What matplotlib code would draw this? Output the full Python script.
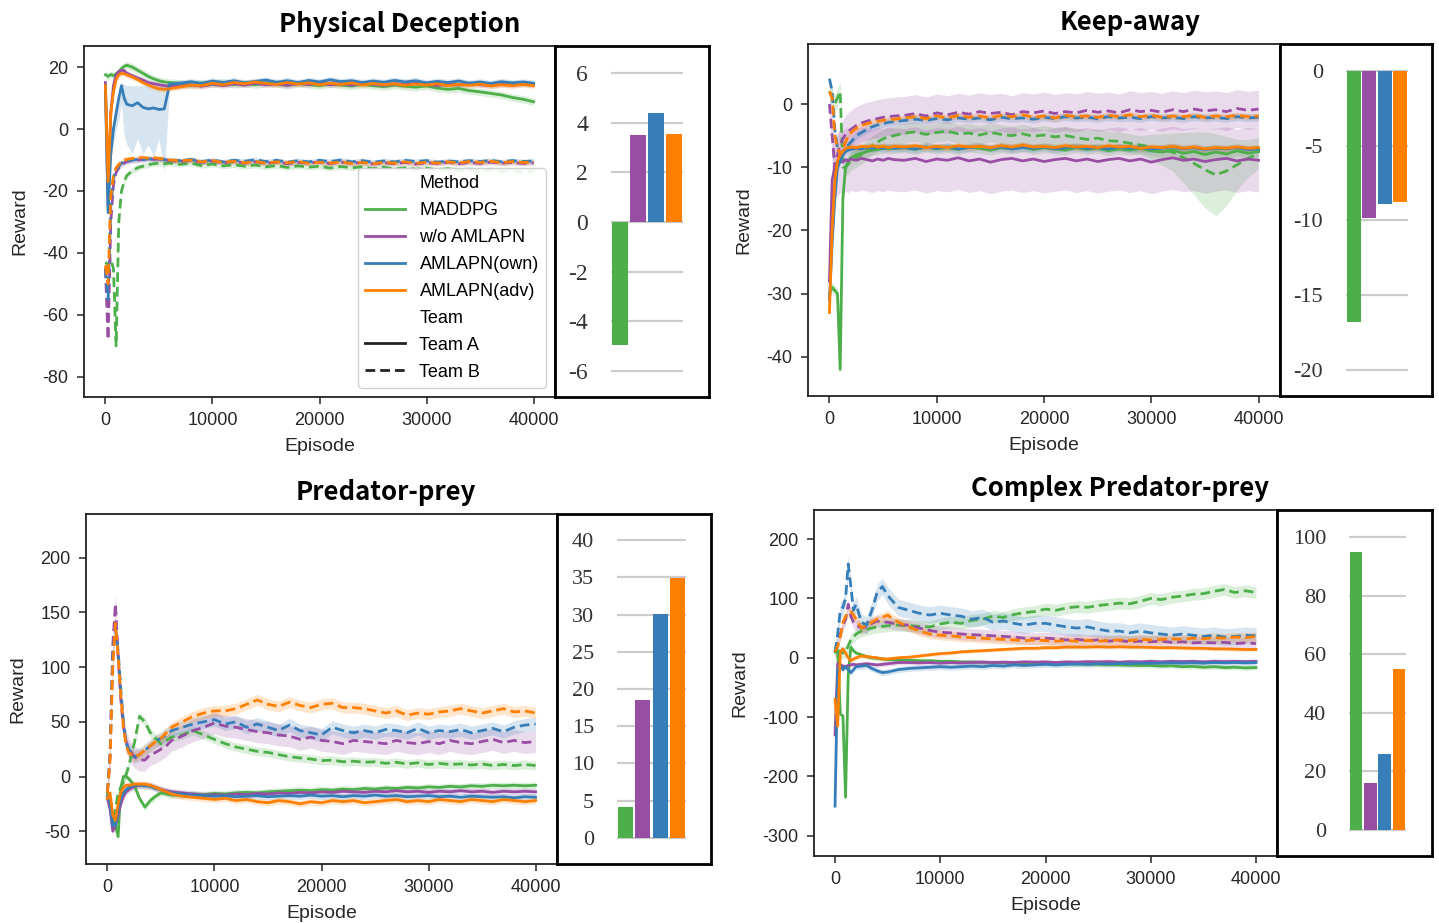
import numpy as np
import matplotlib.pyplot as plt
from matplotlib.lines import Line2D

plt.rcParams['font.family'] = ['Liberation Sans', 'DejaVu Sans']
plt.rcParams['axes.unicode_minus'] = False

W, H = 1439, 923

# x positions of the logged episodes (denser at the start)
EPISODES = [0, 250, 500, 750, 1000, 1250, 1500, 1750, 2000, 2500, 3000,
            3500, 4000, 4500, 5000, 5500, 6000] + list(range(7000, 40001, 1000))

METHODS = ['MADDPG', 'w/o AMLAPN', 'AMLAPN(own)', 'AMLAPN(adv)']
COLORS = ['#4daf4a', '#984ea3', '#377eb8', '#ff7f00']

# ---------------- Physical Deception ----------------
pd_green_a = [17.5, 17.0, 17.6, 17.2, 17.8, 18.5, 19.5, 20.2, 20.6, 20.0, 19.0, 18.0, 17.0, 16.2, 15.6, 15.2, 15.0,
              14.8, 14.2, 14.9, 14.5, 15.1, 14.4, 14.8, 14.3, 14.9, 14.6, 14.1, 14.7, 14.4, 14.0, 14.6, 14.2, 13.9,
              14.4, 14.0, 13.7, 14.2, 13.8, 13.5, 13.9, 13.2, 12.8, 13.1, 12.4, 12.0, 11.5, 11.0, 10.2, 9.6, 8.8]
pd_purple_a = [15.0, -25.0, 5.0, 14.0, 17.5, 18.5, 19.0, 18.8, 18.0, 17.2, 16.5, 15.8, 15.0, 14.6, 14.3, 14.0, 13.8,
               13.9, 14.3, 13.8, 14.5, 14.0, 14.6, 14.2, 14.8, 14.3, 14.6, 14.1, 14.7, 14.4, 14.9, 14.3, 14.6, 14.2,
               14.8, 14.5, 14.1, 14.6, 14.3, 14.8, 14.4, 14.0, 14.5, 14.2, 14.7, 14.3, 14.0, 14.5, 14.2, 14.6, 14.3]
pd_blue_a = [14.0, -27.0, -8.0, 0.0, 5.0, 10.0, 14.0, 10.0, 8.0, 7.5, 8.5, 7.0, 6.5, 6.8, 6.3, 6.5, 14.5,
             14.8, 15.3, 14.7, 15.5, 15.0, 15.6, 14.9, 15.4, 15.8, 15.1, 15.6, 15.0, 15.7, 15.2, 15.9, 15.3, 15.6,
             15.0, 15.5, 15.1, 15.7, 15.2, 15.6, 14.9, 15.4, 15.0, 15.5, 14.8, 15.2, 14.7, 15.3, 14.9, 15.2, 14.8]
pd_orange_a = [14.0, -17.0, 5.0, 12.0, 16.0, 17.5, 18.0, 17.8, 17.5, 16.8, 16.0, 15.0, 14.2, 13.5, 13.0, 12.8, 13.0,
               13.6, 14.2, 14.0, 14.8, 14.3, 15.0, 14.6, 15.2, 14.7, 14.4, 15.0, 14.5, 14.9, 14.3, 14.8, 14.4, 14.9,
               14.2, 14.7, 14.3, 14.6, 14.1, 14.5, 14.2, 14.6, 14.0, 14.4, 14.1, 14.5, 13.9, 14.3, 14.0, 14.4, 14.0]
pd_green_b = [-43.0, -44.0, -42.0, -45.0, -70.0, -30.0, -20.0, -17.0, -15.0, -13.5, -12.5, -12.0, -11.5, -11.2, -11.0, -11.2, -11.0,
              -11.4, -11.0, -11.8, -11.3, -11.9, -11.5, -12.0, -11.6, -12.2, -11.8, -12.4, -11.9, -12.3, -12.0, -12.6, -12.1,
              -12.5, -12.2, -12.8, -12.3, -12.9, -12.5, -13.0, -12.6, -13.2, -12.8, -13.4, -13.0, -13.6, -13.1, -13.7, -13.3,
              -13.9, -13.5]
pd_purple_b = [-45.0, -68.0, -30.0, -18.0, -14.0, -12.5, -11.5, -11.0, -10.5, -10.2, -10.0, -9.8, -9.6, -9.8, -9.7, -10.0, -10.2,
               -10.5, -10.1, -10.8, -10.3, -10.9, -10.5, -11.0, -10.6, -11.1, -10.7, -11.2, -10.8, -11.0, -10.6, -11.2, -10.7,
               -11.1, -10.8, -11.3, -10.9, -11.2, -10.8, -11.3, -10.9, -11.1, -10.7, -11.2, -10.8, -11.1, -10.7, -11.0, -10.8,
               -11.1, -10.9]
pd_blue_b = [-45.0, -55.0, -25.0, -16.0, -13.0, -12.0, -11.0, -10.6, -10.3, -10.0, -9.8, -9.9, -9.6, -9.8, -9.5, -9.9, -10.0,
             -10.2, -9.8, -10.5, -10.0, -10.6, -10.1, -10.4, -9.9, -10.5, -10.1, -10.7, -10.2, -10.6, -10.1, -10.5, -10.0,
             -10.6, -10.2, -10.7, -10.3, -10.6, -10.1, -10.5, -10.2, -10.7, -10.3, -10.6, -10.2, -10.5, -10.1, -10.6, -10.2,
             -10.5, -10.3]
pd_orange_b = [-44.0, -50.0, -22.0, -15.0, -12.5, -11.5, -10.5, -10.0, -9.8, -9.5, -9.3, -9.2, -9.4, -9.2, -9.5, -9.7, -10.0,
               -10.3, -10.0, -10.6, -10.2, -10.8, -10.4, -10.9, -10.5, -11.0, -10.6, -10.9, -10.5, -11.1, -10.7, -11.0, -10.6,
               -11.1, -10.8, -11.2, -10.7, -11.0, -10.6, -11.1, -10.7, -11.0, -10.6, -10.9, -10.5, -10.8, -10.4, -10.9, -10.5,
               -10.8, -10.6]
pd_spread_a = [1.2, 0.9, 1.0, 0.9]
pd_spread_b = [0.9, 0.8, 0.8, 0.8]
# wide band of AMLAPN(own) Team A over the first 6000 episodes
pd_blue_a_band_lo = [13, -27, -10, -5, 0, 3, 8, -2, -5, -8, -3, -8, -5, -9, -3, -14, 13.5]
pd_blue_a_band_hi = [15, -26, -6, 2, 7, 12, 15, 14.5, 14, 14, 14, 14, 14, 14, 14, 14, 15.5]
pd_bars = [-4.97, 3.49, 4.39, 3.54]

# ---------------- Keep-away ----------------
kw_green_a = [-30.0, -29.0, -29.5, -30.0, -42.0, -15.0, -10.0, -9.0, -8.5, -8.0, -7.8, -7.5, -7.3, -7.2, -7.0, -7.1, -7.0,
              -6.9, -7.2, -6.8, -7.1, -6.9, -7.2, -6.8, -7.0, -7.3, -6.9, -7.1, -6.8, -7.2, -6.9, -7.1, -7.3, -6.9,
              -7.2, -7.0, -7.4, -7.1, -7.3, -7.0, -7.4, -7.6, -7.3, -7.8, -7.5, -8.0, -7.6, -7.9, -7.4, -7.8, -7.5]
kw_purple_a = [-28.0, -12.0, -10.0, -9.5, -9.0, -9.2, -8.8, -9.0, -8.7, -8.9, -8.6, -8.8, -9.0, -8.7, -8.9, -8.6, -8.8,
               -8.9, -8.6, -9.1, -8.7, -8.9, -8.5, -9.0, -8.7, -9.2, -8.8, -8.6, -9.0, -8.7, -9.1, -8.8, -8.6, -9.0,
               -8.7, -9.1, -8.8, -8.6, -9.0, -8.7, -9.2, -8.8, -8.5, -8.9, -8.7, -9.1, -8.8, -8.6, -9.0, -8.7, -8.9]
kw_blue_a = [-31.0, -22.0, -15.0, -10.0, -9.0, -8.0, -7.5, -7.3, -7.2, -7.0, -7.1, -6.9, -7.0, -6.8, -7.0, -6.9, -7.0,
             -6.9, -7.1, -6.8, -7.0, -6.8, -7.1, -6.9, -6.7, -7.0, -6.8, -7.1, -6.9, -7.0, -6.8, -7.1, -6.9, -6.8,
             -7.0, -6.9, -7.1, -6.8, -7.0, -6.9, -7.1, -7.0, -6.8, -7.1, -6.9, -7.2, -7.0, -7.1, -6.9, -7.2, -7.1]
kw_orange_a = [-33.0, -20.0, -12.0, -9.0, -8.0, -7.5, -7.0, -6.9, -6.8, -6.9, -6.7, -6.8, -6.6, -6.8, -6.7, -6.9, -6.7,
               -6.8, -6.6, -6.9, -6.7, -6.9, -6.6, -6.8, -6.7, -6.9, -6.6, -6.8, -6.5, -6.8, -6.7, -6.9, -6.6, -6.8,
               -6.7, -6.9, -6.6, -6.8, -6.7, -7.0, -6.8, -6.9, -6.7, -7.0, -6.8, -7.1, -6.9, -7.0, -6.8, -7.0, -6.9]
kw_green_b = [2.0, 1.0, 0.0, 1.0, 2.0, -10.0, -10.0, -9.5, -9.0, -8.5, -8.0, -7.2, -6.5, -6.0, -5.5, -5.2, -5.0,
              -4.6, -4.4, -4.8, -4.5, -4.3, -4.7, -4.6, -4.9, -4.5, -4.8, -5.0, -4.7, -5.1, -4.9, -5.2, -5.0, -5.3,
              -5.6, -5.4, -5.8, -5.9, -6.2, -6.5, -6.8, -7.2, -7.6, -8.5, -9.4, -10.4, -11.2, -10.6, -9.6, -8.6, -7.8]
kw_purple_b = [0.0, -5.0, -10.0, -8.0, -6.5, -5.5, -4.8, -4.3, -4.0, -3.4, -3.0, -2.7, -2.5, -2.3, -2.1, -2.0, -1.9,
               -1.8, -1.5, -1.9, -1.4, -1.7, -1.3, -1.6, -1.2, -1.5, -1.3, -1.7, -1.2, -1.4, -1.1, -1.5, -1.2, -1.4,
               -1.0, -1.3, -1.1, -1.4, -0.9, -1.2, -1.0, -1.3, -0.9, -1.2, -0.8, -1.1, -0.9, -1.2, -0.7, -1.0, -0.8]
kw_blue_b = [4.0, 2.0, -4.0, -7.0, -8.0, -7.5, -7.0, -6.5, -6.0, -5.0, -4.5, -4.0, -3.6, -3.3, -3.1, -2.9, -2.8,
             -2.6, -2.4, -2.6, -2.3, -2.5, -2.2, -2.4, -2.2, -2.5, -2.1, -2.3, -2.2, -2.4, -2.1, -2.3, -2.0, -2.2,
             -2.1, -2.3, -2.0, -2.2, -2.1, -2.3, -2.0, -2.2, -2.1, -2.3, -2.0, -2.2, -2.1, -2.3, -2.0, -2.2, -2.1]
kw_orange_b = [2.0, 1.0, -5.0, -7.0, -8.0, -7.0, -6.0, -5.0, -4.5, -3.8, -3.4, -3.1, -2.9, -2.7, -2.6, -2.5, -2.4,
               -2.2, -2.0, -2.3, -1.9, -2.2, -1.8, -2.1, -1.9, -2.2, -1.8, -2.0, -1.7, -2.1, -1.9, -2.2, -1.8, -2.0,
               -1.9, -2.1, -1.8, -2.0, -1.7, -2.0, -1.8, -2.1, -1.9, -2.0, -1.8, -2.1, -1.9, -2.0, -1.8, -2.0, -1.9]
kw_spread_a = [0.8, 5.0, 0.6, 0.5]
kw_spread_b = [1.2, 3.0, 0.6, 0.5]
# MADDPG Team B gets noisy near the end
kw_green_b_spread = [1.5] * 40 + [2.0, 2.5, 3.0, 4.0, 5.0, 6.0, 6.5, 5.5, 4.0, 3.0, 2.5]
kw_bars = [-16.8, -9.85, -8.93, -8.79]

# ---------------- Predator-prey ----------------
pp_green_a = [-15, -20, -40, -45, -55, -10, 0, 0, -2, -8, -20, -28, -22, -18, -15, -16, -17,
              -17, -16, -16.5, -15.5, -16, -15, -14.5, -15, -14, -13.5, -13, -12.5, -13, -12, -12.5, -11.5, -12,
              -11, -11.5, -10.5, -11, -10, -10.5, -9.5, -10, -9, -9.5, -8.5, -9, -8, -8.5, -8, -8.5, -8]
pp_purple_a = [-20, -30, -50, -45, -35, -25, -18, -14, -12, -9, -8, -8, -8.5, -10, -12, -13, -14,
               -15, -16, -17, -16.5, -17, -16, -16.5, -15.5, -16, -15, -15.5, -14.5, -15, -14, -14.5, -13.5, -14,
               -14.5, -13.5, -14, -13, -14, -13.5, -14.5, -13.5, -14, -13, -14, -13.5, -14.5, -13.5, -14, -13.5, -14]
pp_blue_a = [-18, -25, -45, -45, -30, -20, -15, -12, -10, -8, -8, -8.5, -9, -11, -12, -14, -15,
             -16, -17, -17.5, -18, -17.5, -18.5, -18, -17.5, -18.5, -18, -17.5, -18, -17, -18, -17.5, -18.5, -17.5,
             -18, -17, -18, -17.5, -18.5, -18, -17.5, -18.5, -18, -19, -18, -18.5, -19, -18.5, -19.5, -18.5, -19]
pp_orange_a = [-20, -15, -35, -40, -25, -15, -10, -8, -8, -7, -7, -7, -8, -10, -12, -14, -16,
               -18, -19, -20, -21, -20, -22, -21, -23, -24, -22, -23, -25, -23, -24, -22, -23, -22,
               -24, -23, -22, -21, -23, -22, -23, -21, -22, -23, -21, -22, -23, -21, -22, -23, -22]
pp_green_b = [-15, -25, -40, -30, -15, -10, -5, 2, 10, 30, 55, 50, 40, 35, 30, 33, 36,
              38, 42, 38, 34, 30, 27, 25, 23, 22, 20, 18, 17, 16, 14.5, 15, 13.5, 14,
              13, 13.5, 12, 13, 11.5, 12.5, 11, 12, 11, 11.5, 10.5, 11.5, 10, 11, 10, 11, 10]
pp_purple_b = [-15, 20, 120, 158, 110, 70, 45, 32, 25, 18, 15, 15, 20, 22, 25, 28, 33,
               37, 42, 45, 49, 46, 45, 43, 41, 40, 38, 37, 34, 36, 33, 32, 30, 33,
               32, 31, 30, 33, 31, 30, 32, 30, 33, 31, 30, 32, 34, 31, 33, 31, 32]
pp_blue_b = [-15, 20, 110, 135, 115, 80, 50, 30, 25, 18, 20, 24, 28, 32, 35, 38, 42,
             45, 48, 50, 52, 48, 50, 45, 48, 45, 42, 47, 42, 40, 38, 45, 42, 40,
             42, 40, 43, 42, 40, 44, 40, 42, 41, 43, 40, 42, 44, 41, 45, 47, 48]
pp_orange_b = [-15, 15, 100, 140, 110, 75, 45, 28, 22, 18, 20, 24, 28, 32, 35, 40, 45,
               50, 55, 58, 60, 60, 62, 66, 70, 66, 64, 68, 65, 63, 66, 67, 63, 63,
               62, 60, 58, 60, 56, 58, 57, 59, 60, 62, 60, 58, 60, 62, 59, 60, 58]
pp_spread_a = [3.0, 3.0, 3.0, 3.0]
pp_spread_b = [4.0, 10.0, 6.0, 5.0]
pp_bars = [4.14, 18.5, 30.07, 34.9]

# ---------------- Complex Predator-prey ----------------
cp_green_a = [10, 12, -95, -98, -235, -30, 18, 12, 8, 5, 2, 0, -1, -2, -3, -3, -4,
              -4, -5, -5, -6, -6, -7, -7, -7.5, -8, -8, -8.5, -9, -9, -9.5, -10, -10, -10.5,
              -11, -11, -11.5, -12, -12.5, -13, -13, -14, -13.5, -15, -14.5, -16, -15, -16.5, -16, -17, -16.5]
cp_purple_a = [-130, -10, -12, -14, -15, -13, -12, -11, -12, -11, -10, -11, -12, -11, -10, -9, -8,
               -8, -8.5, -8, -9, -8, -8.5, -8, -7.5, -8, -7.5, -8, -7, -7.5, -7, -8, -7, -7.5,
               -6.5, -7, -6.5, -7.5, -6.5, -7, -6, -7, -6, -6.5, -6, -7, -6, -6.5, -6, -6.5, -6]
cp_blue_a = [-250, -20, -12, -20, -15, -20, -25, -20, -15, -14, -13, -18, -22, -25, -24, -22, -20,
             -18, -17, -16, -15, -16, -15, -14, -15, -13, -14, -12, -13, -12, -11, -12, -11, -10.5,
             -11, -10, -10.5, -9.5, -10, -9, -9.5, -9, -8.5, -9, -8.5, -9, -8, -8.5, -8, -8.5, -8]
cp_orange_a = [-70, -115, 10, 15, 8, 0, -5, -2, 0, 3, 2, 1, 0, -2, -2, -1, 0,
               1, 3, 5, 7, 8, 10, 11, 12, 13, 14, 15, 16, 16, 17, 17, 18, 18,
               18, 18.5, 18, 18.5, 18, 18, 17.5, 17, 17, 16.5, 16, 16, 15, 15, 14.5, 14, 14]
cp_green_b = [10, 12, 10, 8, 10, 20, 30, 35, 40, 45, 48, 50, 52, 53, 54, 55, 55,
              54, 53, 52, 57, 60, 58, 63, 65, 70, 68, 73, 76, 78, 82, 80, 84, 86,
              85, 88, 90, 92, 91, 95, 100, 98, 102, 104, 107, 108, 112, 115, 110, 113, 110]
cp_purple_b = [10, 25, 40, 55, 65, 90, 70, 60, 55, 50, 52, 58, 62, 60, 60, 58, 56,
               55, 50, 46, 43, 42, 40, 39, 38, 37, 36, 35, 33, 32, 33, 32, 30, 31,
               29, 30, 28, 29, 27, 28, 27, 28, 26, 27, 25, 26, 25, 26, 24, 25, 24]
cp_blue_b = [10, 40, 80, 85, 100, 158, 120, 80, 90, 60, 55, 80, 110, 120, 105, 95, 85,
             80, 75, 72, 75, 72, 70, 65, 68, 60, 62, 58, 55, 58, 58, 55, 52, 50,
             52, 48, 45, 45, 42, 45, 42, 40, 38, 40, 38, 36, 38, 35, 36, 38, 37]
cp_orange_b = [10, 20, 35, 60, 70, 75, 78, 72, 65, 50, 55, 60, 65, 68, 72, 65, 60,
               52, 45, 40, 38, 37, 35, 34, 33, 32, 31, 30, 29, 30, 29, 28, 29, 28,
               29, 28, 29, 30, 29, 31, 30, 31, 32, 31, 33, 32, 34, 33, 35, 34, 36]
cp_spread_a = [4.0, 4.0, 5.0, 3.0]
cp_spread_b = [10.0, 10.0, 14.0, 8.0]
cp_bars = [94.9, 15.85, 25.9, 54.8]


def fig_box(l, t, r, b):
    # pixel box of the reference -> figure fraction
    return [l / W, 1 - b / H, (r - l) / W, (b - t) / H]


def line_panel(box, team_a, team_b, spread_a, spread_b, ylim, yticks, extra_bands=None):
    ax = fig.add_axes(fig_box(*box))
    x = np.array(EPISODES)
    for i in range(4):
        for team, data, spread, style in (('A', team_a, spread_a, '-'), ('B', team_b, spread_b, '--')):
            y = np.array(data[i], dtype=float)
            s = spread[i]
            lo, hi = y - s, y + s
            if extra_bands and (i, team) in extra_bands:
                lo, hi = extra_bands[(i, team)](y, lo, hi)
            ax.fill_between(x, lo, hi, color=COLORS[i], alpha=0.2, lw=0)
            if style == '--':
                ax.plot(x, y, color=COLORS[i], lw=2.0, dashes=(3.5, 1.8))
            else:
                ax.plot(x, y, color=COLORS[i], lw=2.0)
    ax.set_xlim(-2000, 42000)
    ax.set_xticks([0, 10000, 20000, 30000, 40000])
    ax.set_ylim(*ylim)
    ax.set_yticks(yticks)
    ax.set_xlabel('Episode', fontsize=14, color='#262626', labelpad=6)
    ax.set_ylabel('Reward', fontsize=14, color='#262626', labelpad=10)
    ax.tick_params(labelsize=13, colors='#262626', length=5, width=1.1, pad=6)
    for sp in ax.spines.values():
        sp.set_linewidth(1.3)
        sp.set_color('#222222')
    return ax


def bar_panel(box, inner, values, ylim, yticks, fs):
    outer = fig.add_axes(fig_box(*box))
    outer.set_xticks([])
    outer.set_yticks([])
    for sp in outer.spines.values():
        sp.set_linewidth(2.0)
        sp.set_color('black')
    bx = fig.add_axes(fig_box(inner[0], box[1], inner[1], box[3]))
    bx.set_frame_on(False)
    bx.bar(range(4), values, width=0.88, color=COLORS, zorder=2)
    bx.set_xlim(-0.5, 3.5)
    bx.set_ylim(*ylim)
    bx.set_yticks(yticks)
    bx.grid(axis='y', color='#cccccc', lw=1.6, zorder=0)
    bx.set_axisbelow(True)
    bx.tick_params(left=False, bottom=False, labelbottom=False, pad=13)
    for lab in bx.get_yticklabels():
        lab.set_fontfamily('Liberation Serif')
        lab.set_fontsize(fs)
        lab.set_color('#333333')


def pd_blue_band(y, lo, hi):
    lo = lo.copy()
    hi = hi.copy()
    lo[:17] = pd_blue_a_band_lo
    hi[:17] = pd_blue_a_band_hi
    return lo, hi


def kw_green_band(y, lo, hi):
    s = np.array(kw_green_b_spread)
    return y - s, y + s


fig = plt.figure(figsize=(W / 100, H / 100), dpi=100)

# Physical Deception
ax1 = line_panel((84, 46, 555, 397),
                 [pd_green_a, pd_purple_a, pd_blue_a, pd_orange_a],
                 [pd_green_b, pd_purple_b, pd_blue_b, pd_orange_b],
                 pd_spread_a, pd_spread_b, (-86.5, 26.8), [-80, -60, -40, -20, 0, 20],
                 extra_bands={(2, 'A'): pd_blue_band})
bar_panel((555, 46, 709, 397), (611, 683), pd_bars, (-7.05, 7.09), [-6, -4, -2, 0, 2, 4, 6], 17)

# Keep-away
ax2 = line_panel((808, 44, 1280, 396),
                 [kw_green_a, kw_purple_a, kw_blue_a, kw_orange_a],
                 [kw_green_b, kw_purple_b, kw_blue_b, kw_orange_b],
                 kw_spread_a, kw_spread_b, (-46.2, 9.5), [-40, -30, -20, -10, 0],
                 extra_bands={(0, 'B'): kw_green_band})
bar_panel((1280, 44, 1432, 396), (1346, 1408), kw_bars, (-21.75, 1.8), [-20, -15, -10, -5, 0], 16)

# Predator-prey
ax3 = line_panel((86, 514, 557, 864),
                 [pp_green_a, pp_purple_a, pp_blue_a, pp_orange_a],
                 [pp_green_b, pp_purple_b, pp_blue_b, pp_orange_b],
                 pp_spread_a, pp_spread_b, (-80, 240), [-50, 0, 50, 100, 150, 200])
bar_panel((557, 514, 711, 864), (617, 686), pp_bars, (-3.5, 43.5), list(range(0, 41, 5)), 16)

# Complex Predator-prey
ax4 = line_panel((814, 510, 1277, 856),
                 [cp_green_a, cp_purple_a, cp_blue_a, cp_orange_a],
                 [cp_green_b, cp_purple_b, cp_blue_b, cp_orange_b],
                 cp_spread_a, cp_spread_b, (-334, 249), [-300, -200, -100, 0, 100, 200])
bar_panel((1277, 510, 1432, 856), (1349, 1406), cp_bars, (-8.9, 109.2), [0, 20, 40, 60, 80, 100], 16)

# titles centred over line plot + bar box
title_kw = dict(fontsize=18.5, fontweight='bold', ha='center', va='center',
                family=['Noto Sans CJK KR', 'DejaVu Sans'])
fig.text(400 / W, 1 - 25 / H, 'Physical Deception', **title_kw)
fig.text(1130 / W, 1 - 22 / H, 'Keep-away', **title_kw)
fig.text(386 / W, 1 - 493 / H, 'Predator-prey', **title_kw)
fig.text(1120 / W, 1 - 488 / H, 'Complex Predator-prey', **title_kw)

# seaborn-like legend with section headers
blank = Line2D([], [], color='none')
handles = [blank] + [Line2D([], [], color=c, lw=2.0) for c in COLORS] + \
          [blank, Line2D([], [], color='#222222', lw=2.0),
           Line2D([], [], color='#222222', lw=2.0, dashes=(3.5, 1.8))]
labels = ['Method'] + METHODS + ['Team', 'Team A', 'Team B']
ax1.legend(handles, labels, loc='lower right', fontsize=13, handlelength=2.2,
           labelspacing=0.55, borderaxespad=0.5, framealpha=0.9)

fig.savefig('out.png', dpi=100)
